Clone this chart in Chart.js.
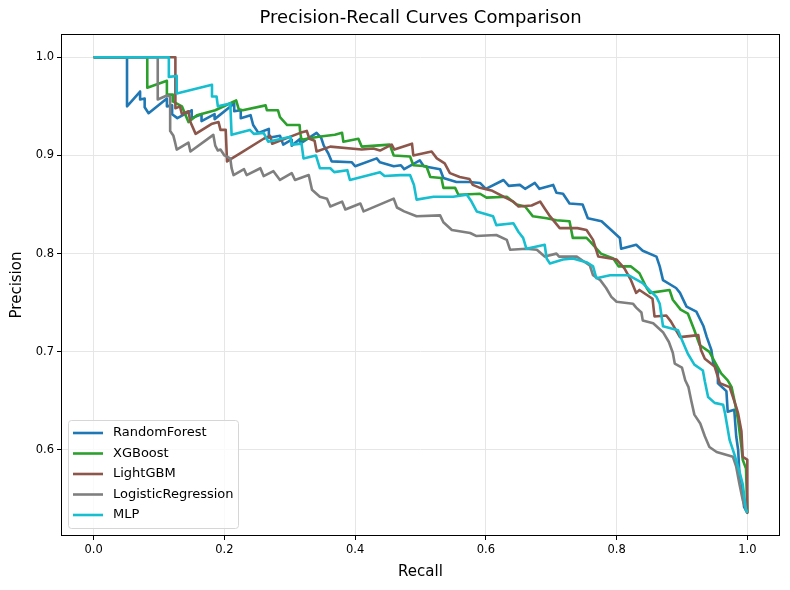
<!DOCTYPE html>
<html>
<head>
<meta charset="utf-8">
<script src="https://cdn.jsdelivr.net/npm/chart.js@4.4.1/dist/chart.umd.min.js"></script>
<style>
  body { margin: 0; background: #fff; }
  canvas { display: block; }
</style>
</head>
<body>
<canvas id="prChart" width="790" height="590"></canvas>
<script>
// models and their curves as [recall, precision] pairs
const modelNames = ['RandomForest', 'XGBoost', 'LightGBM', 'LogisticRegression', 'MLP'];
const modelColors = ['#1f77b4', '#2ca02c', '#8c564b', '#7f7f7f', '#17becf'];

const xTicks = [0.0, 0.2, 0.4, 0.6, 0.8, 1.0];
const yTicks = [0.6, 0.7, 0.8, 0.9, 1.0];

const rfCurve = [
    [0,1],[0.051,1],[0.051,0.950],[0.071,0.965],[0.071,0.957],[0.078,0.958],[0.078,0.949],[0.084,0.943],
    [0.112,0.958],[0.112,0.950],[0.120,0.951],[0.120,0.942],[0.128,0.938],[0.150,0.946],[0.150,0.938],
    [0.165,0.942],[0.165,0.935],[0.185,0.942],[0.185,0.937],[0.215,0.953],[0.215,0.945],[0.225,0.946],
    [0.225,0.938],[0.240,0.941],[0.244,0.931],[0.252,0.923],[0.268,0.927],[0.268,0.918],[0.285,0.920],
    [0.290,0.911],[0.303,0.916],[0.303,0.910],[0.316,0.917],[0.316,0.912],[0.341,0.923],[0.348,0.918],
    [0.352,0.910],[0.359,0.902],[0.364,0.894],[0.395,0.893],[0.400,0.889],[0.433,0.897],[0.438,0.893],
    [0.459,0.889],[0.470,0.890],[0.475,0.886],[0.499,0.895],[0.505,0.889],[0.530,0.886],[0.535,0.877],
    [0.555,0.873],[0.575,0.873],[0.591,0.872],[0.600,0.866],[0.627,0.875],[0.635,0.869],[0.652,0.870],
    [0.660,0.866],[0.675,0.872],[0.682,0.866],[0.703,0.870],[0.708,0.862],[0.718,0.861],[0.728,0.851],
    [0.748,0.850],[0.756,0.836],[0.777,0.833],[0.795,0.822],[0.805,0.816],[0.807,0.805],[0.830,0.809],
    [0.840,0.803],[0.861,0.797],[0.866,0.787],[0.871,0.773],[0.891,0.765],[0.897,0.760],[0.907,0.746],
    [0.922,0.741],[0.933,0.726],[0.938,0.715],[0.945,0.702],[0.948,0.688],[0.955,0.681],[0.955,0.668],
    [0.968,0.660],[0.970,0.639],[0.980,0.641],[0.983,0.614],[0.986,0.600],[0.988,0.575],[0.991,0.567],
    [0.995,0.542],[1.0,0.536]
];

const xgbCurve = [
    [0,1],[0.082,1],[0.082,0.969],[0.112,0.976],[0.112,0.962],[0.121,0.962],[0.121,0.955],[0.135,0.950],
    [0.140,0.942],[0.145,0.934],[0.158,0.941],[0.186,0.946],[0.218,0.956],[0.222,0.947],[0.228,0.946],
    [0.263,0.951],[0.265,0.946],[0.282,0.946],[0.285,0.939],[0.296,0.931],[0.315,0.931],[0.316,0.923],
    [0.318,0.916],[0.344,0.919],[0.369,0.921],[0.380,0.923],[0.382,0.914],[0.405,0.917],[0.410,0.909],
    [0.453,0.911],[0.459,0.900],[0.484,0.899],[0.489,0.890],[0.509,0.889],[0.515,0.878],[0.532,0.877],
    [0.535,0.867],[0.553,0.867],[0.558,0.860],[0.591,0.861],[0.601,0.857],[0.632,0.858],[0.647,0.850],
    [0.660,0.848],[0.672,0.838],[0.693,0.836],[0.708,0.834],[0.728,0.833],[0.733,0.816],[0.754,0.816],
    [0.760,0.812],[0.776,0.800],[0.795,0.795],[0.803,0.787],[0.822,0.787],[0.835,0.780],[0.846,0.765],
    [0.851,0.760],[0.881,0.763],[0.886,0.753],[0.898,0.743],[0.909,0.739],[0.919,0.722],[0.927,0.707],
    [0.942,0.700],[0.950,0.690],[0.960,0.678],[0.970,0.671],[0.976,0.664],[0.981,0.648],[0.986,0.630],
    [0.991,0.603],[0.993,0.590],[0.998,0.581],[1.0,0.536]
];

const lgbmCurve = [
    [0,1],[0.125,1],[0.125,0.948],[0.132,0.950],[0.135,0.942],[0.145,0.945],[0.148,0.934],[0.156,0.922],
    [0.180,0.932],[0.191,0.934],[0.194,0.926],[0.202,0.926],[0.204,0.894],[0.224,0.902],[0.260,0.917],
    [0.270,0.920],[0.273,0.912],[0.316,0.923],[0.326,0.925],[0.330,0.917],[0.338,0.915],[0.341,0.904],
    [0.362,0.909],[0.410,0.906],[0.428,0.907],[0.438,0.905],[0.456,0.911],[0.460,0.906],[0.487,0.912],
    [0.489,0.900],[0.517,0.904],[0.525,0.897],[0.537,0.892],[0.545,0.882],[0.560,0.878],[0.575,0.876],
    [0.580,0.870],[0.591,0.867],[0.610,0.864],[0.627,0.858],[0.642,0.853],[0.650,0.848],[0.670,0.849],
    [0.683,0.853],[0.690,0.846],[0.697,0.839],[0.713,0.826],[0.740,0.826],[0.754,0.824],[0.764,0.814],
    [0.772,0.797],[0.800,0.794],[0.812,0.785],[0.822,0.773],[0.830,0.760],[0.835,0.763],[0.855,0.754],
    [0.858,0.736],[0.876,0.737],[0.883,0.731],[0.897,0.715],[0.925,0.717],[0.929,0.702],[0.935,0.693],
    [0.950,0.685],[0.958,0.668],[0.973,0.664],[0.983,0.644],[0.986,0.637],[0.991,0.619],[0.993,0.593],
    [0.998,0.591],[1.0,0.590],[1.0,0.536]
];

const lrCurve = [
    [0,1],[0.098,1],[0.098,0.957],[0.112,0.961],[0.117,0.960],[0.117,0.925],[0.122,0.920],[0.125,0.912],
    [0.127,0.906],[0.145,0.913],[0.148,0.904],[0.183,0.921],[0.186,0.910],[0.190,0.905],[0.194,0.906],
    [0.200,0.900],[0.209,0.897],[0.211,0.887],[0.214,0.880],[0.230,0.886],[0.234,0.880],[0.255,0.887],
    [0.260,0.879],[0.275,0.884],[0.285,0.875],[0.303,0.882],[0.308,0.875],[0.329,0.880],[0.334,0.865],
    [0.346,0.858],[0.357,0.856],[0.362,0.848],[0.380,0.853],[0.385,0.845],[0.408,0.851],[0.413,0.843],
    [0.459,0.856],[0.464,0.847],[0.475,0.843],[0.494,0.838],[0.530,0.839],[0.535,0.832],[0.548,0.824],
    [0.576,0.821],[0.585,0.818],[0.616,0.819],[0.632,0.814],[0.637,0.804],[0.662,0.805],[0.678,0.804],
    [0.690,0.797],[0.708,0.800],[0.712,0.797],[0.739,0.797],[0.750,0.792],[0.759,0.788],[0.764,0.778],
    [0.775,0.773],[0.784,0.765],[0.792,0.756],[0.800,0.751],[0.825,0.749],[0.830,0.745],[0.838,0.740],
    [0.840,0.732],[0.856,0.729],[0.871,0.720],[0.880,0.710],[0.886,0.699],[0.889,0.688],[0.900,0.684],
    [0.905,0.671],[0.910,0.664],[0.914,0.651],[0.919,0.636],[0.928,0.627],[0.935,0.614],[0.942,0.603],
    [0.953,0.598],[0.978,0.593],[0.983,0.583],[0.988,0.565],[0.993,0.549],[0.998,0.539],[1.0,0.536]
];

const mlpCurve = [
    [0,1],[0.115,1],[0.115,0.980],[0.127,0.981],[0.127,0.963],[0.181,0.972],[0.181,0.960],[0.188,0.960],
    [0.190,0.950],[0.209,0.953],[0.211,0.921],[0.239,0.926],[0.245,0.922],[0.260,0.923],[0.267,0.914],
    [0.301,0.919],[0.303,0.911],[0.318,0.912],[0.321,0.897],[0.340,0.900],[0.346,0.887],[0.362,0.887],
    [0.368,0.883],[0.388,0.885],[0.392,0.875],[0.438,0.883],[0.445,0.879],[0.469,0.880],[0.484,0.880],
    [0.490,0.870],[0.494,0.855],[0.520,0.858],[0.550,0.858],[0.571,0.860],[0.578,0.853],[0.586,0.843],
    [0.611,0.838],[0.616,0.829],[0.642,0.831],[0.650,0.822],[0.657,0.816],[0.662,0.805],[0.690,0.809],
    [0.693,0.795],[0.698,0.790],[0.718,0.794],[0.733,0.795],[0.755,0.791],[0.764,0.787],[0.769,0.775],
    [0.790,0.778],[0.818,0.778],[0.840,0.770],[0.850,0.763],[0.861,0.756],[0.866,0.749],[0.871,0.726],
    [0.894,0.722],[0.900,0.712],[0.909,0.698],[0.919,0.687],[0.932,0.681],[0.935,0.670],[0.940,0.654],
    [0.950,0.648],[0.963,0.646],[0.966,0.637],[0.973,0.610],[0.980,0.596],[0.988,0.578],[0.993,0.565],
    [0.998,0.539],[1.0,0.536]
];

const curves = [rfCurve, xgbCurve, lgbmCurve, lrCurve, mlpCurve];

const FONT = '"DejaVu Sans", sans-serif';
const LINE_W = 2.6;

// frame, title, axis labels, legend
const decorPlugin = {
    id: 'decor',
    afterDraw(chart) {
        const ctx = chart.ctx;
        const a = chart.chartArea;
        ctx.save();
        ctx.strokeStyle = '#000';
        ctx.lineWidth = 1;
        ctx.strokeRect(Math.round(a.left) + 0.5, Math.round(a.top) + 0.5,
            Math.round(a.right - a.left) - 1, Math.round(a.bottom - a.top) - 1);

        ctx.fillStyle = '#000';
        ctx.textAlign = 'center';
        ctx.textBaseline = 'middle';
        ctx.font = '18px ' + FONT;
        ctx.fillText('Precision-Recall Curves Comparison', (a.left + a.right) / 2, 18);

        ctx.font = '15px ' + FONT;
        ctx.fillText('Recall', (a.left + a.right) / 2, 572);
        ctx.save();
        ctx.translate(17, (a.top + a.bottom) / 2);
        ctx.rotate(-Math.PI / 2);
        ctx.fillText('Precision', 0, 0);
        ctx.restore();

        // legend box
        const lx = 68, ly = 420, lw = 170, lh = 108;
        ctx.beginPath();
        ctx.roundRect(lx + 0.5, ly + 0.5, lw, lh, 3);
        ctx.fillStyle = 'rgba(255,255,255,0.8)';
        ctx.fill();
        ctx.strokeStyle = '#d6d6d6';
        ctx.lineWidth = 1;
        ctx.stroke();
        ctx.font = '13px ' + FONT;
        ctx.textAlign = 'left';
        modelNames.forEach((name, i) => {
            const y = 433 + i * 20.5;
            ctx.beginPath();
            ctx.moveTo(73, y);
            ctx.lineTo(103, y);
            ctx.strokeStyle = modelColors[i];
            ctx.lineWidth = LINE_W;
            ctx.stroke();
            ctx.fillStyle = '#000';
            ctx.fillText(name, 113, y);
        });
        ctx.restore();
    }
};

const ctx = document.getElementById('prChart').getContext('2d');

new Chart(ctx, {
    type: 'line',
    data: {
        datasets: curves.map((c, i) => ({
            label: modelNames[i],
            data: c.map(p => ({ x: p[0], y: p[1] })),
            borderColor: modelColors[i],
            backgroundColor: modelColors[i],
            borderWidth: LINE_W,
            borderJoinStyle: 'round',
            pointRadius: 0,
            tension: 0,
            fill: false,
            order: curves.length - i
        }))
    },
    options: {
        responsive: false,
        animation: false,
        devicePixelRatio: 1,
        layout: { padding: { left: 0, right: 10, top: 34, bottom: 0 } },
        plugins: {
            legend: { display: false },
            tooltip: { enabled: false }
        },
        scales: {
            x: {
                type: 'linear',
                min: -0.05,
                max: 1.05,
                afterBuildTicks: scale => { scale.ticks = xTicks.map(v => ({ value: v })); },
                afterFit: scale => { scale.height = 54; },
                ticks: {
                    color: '#000',
                    font: { family: FONT, size: 11.5 },
                    padding: 3,
                    maxRotation: 0,
                    callback: v => v.toFixed(1)
                },
                grid: { color: '#e6e6e6', tickColor: '#000', tickLength: 4, lineWidth: 1 },
                border: { display: false }
            },
            y: {
                type: 'linear',
                min: 0.5124,
                max: 1.0237,
                afterBuildTicks: scale => { scale.ticks = yTicks.map(v => ({ value: v })); },
                afterFit: scale => { scale.width = 61; },
                ticks: {
                    color: '#000',
                    font: { family: FONT, size: 11.5 },
                    padding: 3,
                    callback: v => v.toFixed(1)
                },
                grid: { color: '#e6e6e6', tickColor: '#000', tickLength: 4, lineWidth: 1 },
                border: { display: false }
            }
        }
    },
    plugins: [decorPlugin]
});
</script>
</body>
</html>
